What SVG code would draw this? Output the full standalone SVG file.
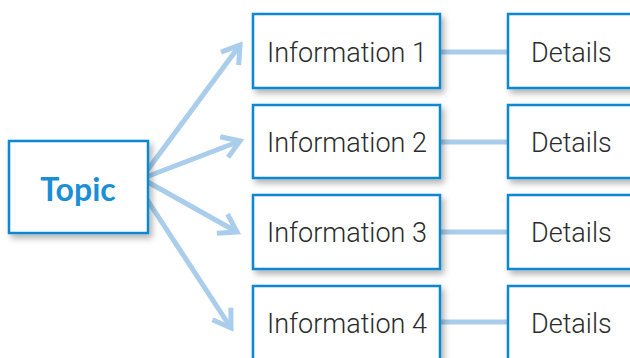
<svg xmlns="http://www.w3.org/2000/svg" width="630" height="358" viewBox="0 0 630 358">
<defs>
<filter id="sh" x="-10%" y="-10%" width="130%" height="140%">
<feDropShadow dx="3" dy="4" stdDeviation="3" flood-color="#000" flood-opacity="0.3"/>
</filter>
<marker id="ah" markerUnits="userSpaceOnUse" markerWidth="30" markerHeight="30" viewBox="-22 -15 26 30" refX="0" refY="0" orient="auto">
<path d="M-17,-11 L0,0 L-17,11" fill="none" stroke="#a9cdeb" stroke-width="5"/>
</marker>
<style>
.box{fill:#fff;stroke:#0a87cf;stroke-width:2.5;filter:url(#sh)}
.t{font-family:Roboto,"Liberation Sans",Arial,sans-serif;font-weight:300;font-size:27px;fill:#2b2b2b}
.c{stroke:#a9cdeb;stroke-width:5;fill:none}
</style>
</defs>
<g id="connectors">
<line class="c" x1="146" y1="172" x2="240" y2="45" marker-end="url(#ah)"/>
<line class="c" x1="146" y1="177" x2="240" y2="141" marker-end="url(#ah)"/>
<line class="c" x1="146" y1="181" x2="237" y2="232" marker-end="url(#ah)"/>
<line class="c" x1="146" y1="198" x2="231" y2="328" marker-end="url(#ah)"/>
<line class="c" x1="440" y1="52" x2="508" y2="52"/>
<line class="c" x1="440" y1="142" x2="508" y2="142"/>
<line class="c" x1="440" y1="232" x2="508" y2="232"/>
<line class="c" x1="440" y1="322" x2="508" y2="322"/>
</g>
<g id="topic">
<rect class="box" x="9" y="141" width="139" height="92"/>
<text x="78" y="201" text-anchor="middle" font-family="Lato,'Noto Sans',sans-serif" font-weight="bold" font-size="32" fill="#1a8fd6">Topic</text>
</g>
<g id="info1">
<rect class="box" x="253" y="14" width="187" height="74"/>
<text class="t" x="267" y="62">Information 1</text>
</g>
<g id="info2">
<rect class="box" x="253" y="105" width="187" height="73"/>
<text class="t" x="267" y="152">Information 2</text>
</g>
<g id="info3">
<rect class="box" x="253" y="195" width="187" height="74"/>
<text class="t" x="267" y="242">Information 3</text>
</g>
<g id="info4">
<rect class="box" x="253" y="286" width="187" height="80"/>
<text class="t" x="267" y="333">Information 4</text>
</g>
<g id="details1">
<rect class="box" x="508" y="14" width="140" height="74"/>
<text class="t" x="531" y="62">Details</text>
</g>
<g id="details2">
<rect class="box" x="508" y="105" width="140" height="73"/>
<text class="t" x="531" y="152">Details</text>
</g>
<g id="details3">
<rect class="box" x="508" y="195" width="140" height="74"/>
<text class="t" x="531" y="242">Details</text>
</g>
<g id="details4">
<rect class="box" x="508" y="286" width="140" height="80"/>
<text class="t" x="531" y="333">Details</text>
</g>
</svg>
